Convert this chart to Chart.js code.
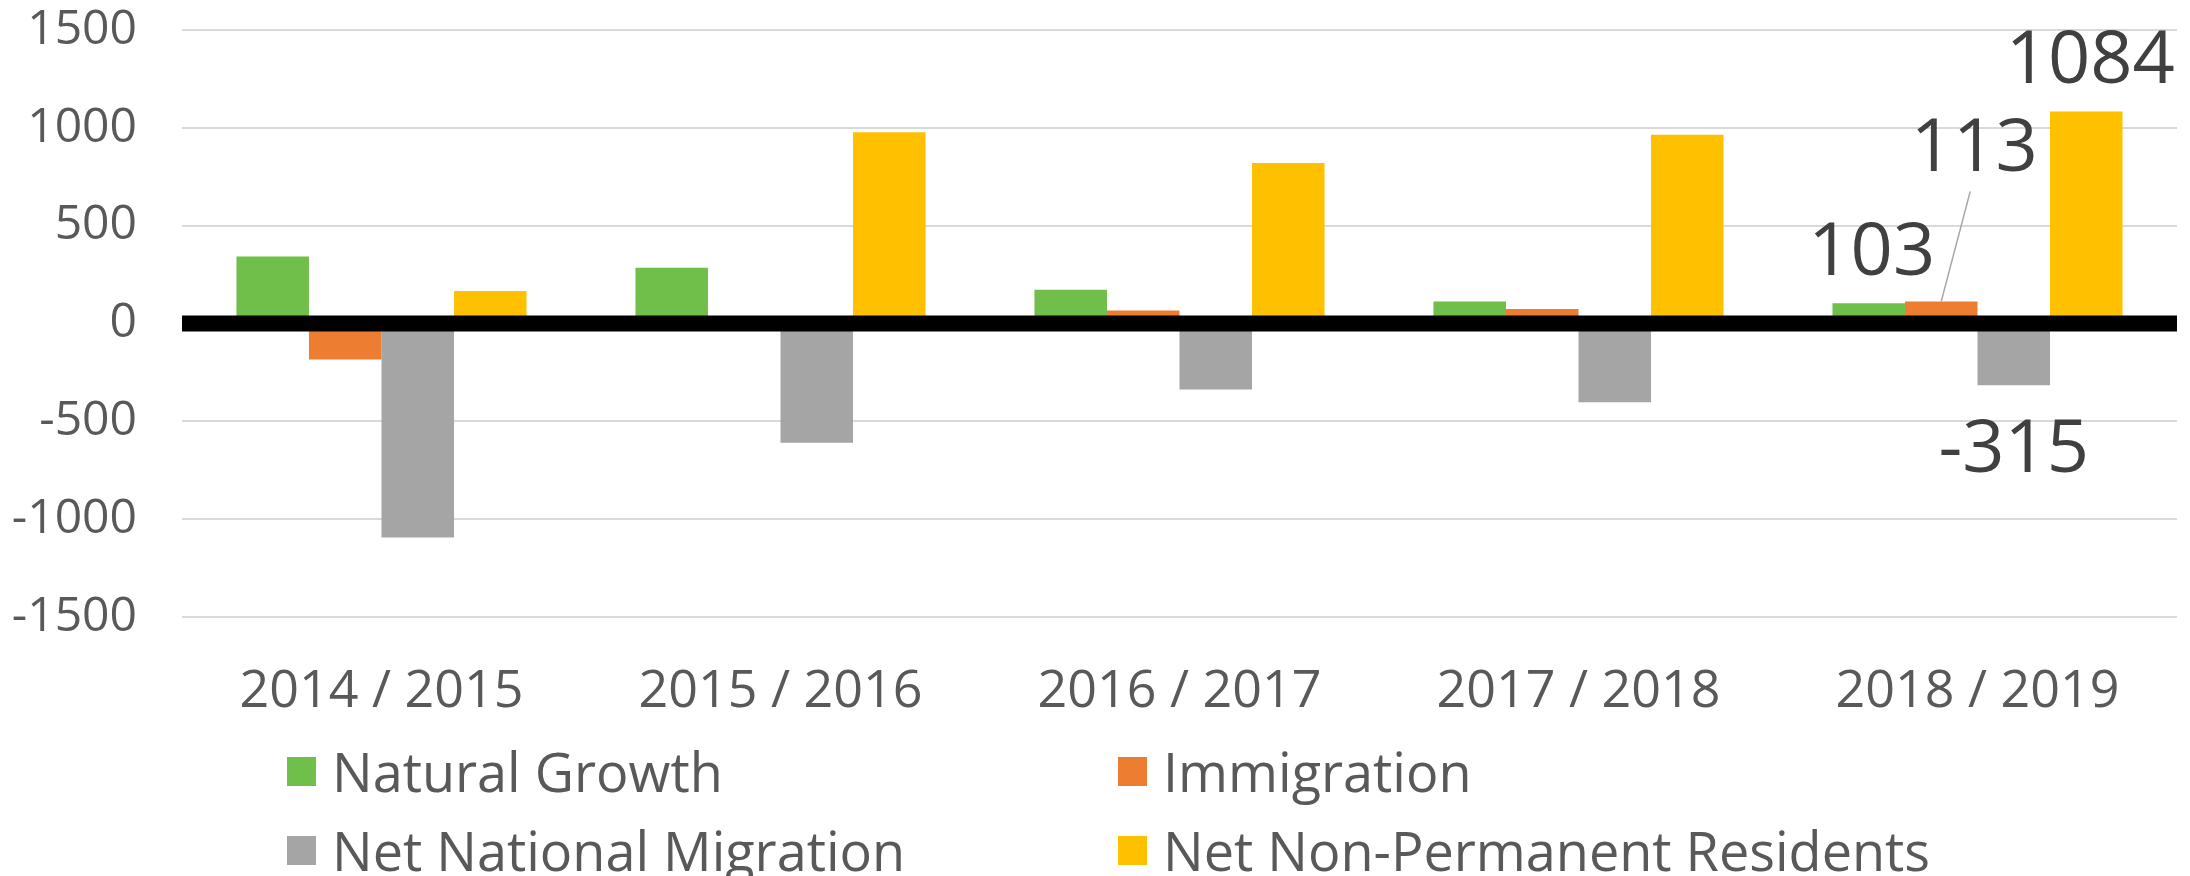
<!DOCTYPE html>
<html>
<head>
<meta charset="utf-8">
<script src="https://cdn.jsdelivr.net/npm/chart.js@4/dist/chart.umd.min.js"></script>
<style>
  body { margin: 0; background: #fff; }
  .wrap { position: relative; width: 2190px; height: 876px; }
  #legend { position: absolute; left: 0; top: 0; width: 100%; height: 100%; pointer-events: none; }
  .item { position: absolute; height: 78px; display: flex; align-items: center;
          font-family: 'Open Sans', sans-serif; font-size: 54px; line-height: 78px; color: #595959; white-space: nowrap; }
  .item .box { width: 29px; height: 29px; margin-right: 16px; }
</style>
</head>
<body>
<div class="wrap">
  <canvas id="popChart"></canvas>
  <div id="legend"></div>
</div>
<script>
const years = ['2014 / 2015', '2015 / 2016', '2016 / 2017', '2017 / 2018', '2018 / 2019'];
const naturalGrowth = [343, 285, 172, 113, 103];
const immigration = [-184, 0, 67, 74, 113];
const netNationalMigration = [-1094, -610, -337, -403, -315];
const netNonPermanent = [166, 978, 820, 965, 1084];
const yTicks = [-1500, -1000, -500, 0, 500, 1000, 1500];

const colors = ['#70BF4B', '#ED7D31', '#A5A5A5', '#FFC000'];

// labels on the last group, offsets in px from the bar end
const labelStyle = [
  { dx: 3, dy: -28 },
  { dx: 33, dy: -130, leader: true },
  { dx: 0, dy: 87 },
  { dx: 4, dy: -28 },
];

const zeroLine = {
  id: 'zeroLine',
  afterDatasetsDraw(chart) {
    const { ctx, chartArea, scales } = chart;
    const y = scales.y.getPixelForValue(0);
    ctx.save();
    ctx.strokeStyle = '#000';
    ctx.lineWidth = 16;
    ctx.beginPath();
    ctx.moveTo(chartArea.left, y);
    ctx.lineTo(chartArea.right, y);
    ctx.stroke();
    ctx.restore();
  }
};

const lastLabels = {
  id: 'lastLabels',
  afterDatasetsDraw(chart) {
    const { ctx } = chart;
    const i = years.length - 1;
    ctx.save();
    ctx.font = '74px "Open Sans"';
    ctx.fillStyle = '#404040';
    ctx.textAlign = 'center';
    ctx.textBaseline = 'alphabetic';
    chart.data.datasets.forEach((ds, d) => {
      const bar = chart.getDatasetMeta(d).data[i];
      const v = ds.data[i];
      const s = labelStyle[d];
      const tx = bar.x + s.dx;
      const ty = bar.y + s.dy;
      if (s.leader) {
        ctx.strokeStyle = '#A6A6A6';
        ctx.lineWidth = 1.5;
        ctx.beginPath();
        ctx.moveTo(bar.x, bar.y);
        ctx.lineTo(tx - 4, ty + 20);
        ctx.stroke();
      }
      ctx.fillText(String(v), tx, ty);
    });
    ctx.restore();
  }
};

const htmlLegend = {
  id: 'htmlLegend',
  afterUpdate(chart) {
    const el = document.getElementById('legend');
    el.innerHTML = '';
    const items = Chart.defaults.plugins.legend.labels.generateLabels(chart);
    const cols = [287, 1118];
    const rows = [732, 811];
    items.forEach((it, k) => {
      const div = document.createElement('div');
      div.className = 'item';
      div.style.left = cols[k % 2] + 'px';
      div.style.top = rows[Math.floor(k / 2)] + 'px';
      const box = document.createElement('span');
      box.className = 'box';
      box.style.background = it.fillStyle;
      div.appendChild(box);
      div.appendChild(document.createTextNode(it.text));
      el.appendChild(div);
    });
  }
};

const ctx = document.getElementById('popChart').getContext('2d');
new Chart(ctx, {
  type: 'bar',
  data: {
    labels: years,
    datasets: [
      { label: 'Natural Growth', data: naturalGrowth, backgroundColor: colors[0] },
      { label: 'Immigration', data: immigration, backgroundColor: colors[1] },
      { label: 'Net National Migration', data: netNationalMigration, backgroundColor: colors[2] },
      { label: 'Net Non-Permanent Residents', data: netNonPermanent, backgroundColor: colors[3] },
    ],
  },
  options: {
    responsive: true,
    maintainAspectRatio: false,
    animation: false,
    categoryPercentage: 0.727,
    barPercentage: 1,
    layout: { padding: { left: 0, right: 13, top: 30, bottom: 159 } },
    plugins: {
      legend: { display: false },
      tooltip: { enabled: false },
    },
    scales: {
      x: {
        grid: { display: false },
        border: { display: false },
        ticks: {
          color: '#595959',
          font: { family: 'Open Sans', size: 52 },
          padding: 36,
          maxRotation: 0,
        },
        afterFit(scale) {
          scale.height = 100;
          scale.paddingLeft = 0;
          scale.paddingRight = 0;
        },
      },
      y: {
        min: -1500,
        max: 1500,
        afterBuildTicks(scale) { scale.ticks = yTicks.map(v => ({ value: v })); },
        grid: { color: '#D9D9D9', lineWidth: 2, drawTicks: false },
        border: { display: false },
        ticks: {
          color: '#595959',
          font: { family: 'Open Sans', size: 48 },
          padding: 45,
          callback: v => String(v),
        },
        afterFit(scale) {
          scale.width = 182;
          scale.paddingTop = 0;
          scale.paddingBottom = 0;
        },
      },
    },
  },
  plugins: [zeroLine, lastLabels, htmlLegend],
});
</script>
</body>
</html>
